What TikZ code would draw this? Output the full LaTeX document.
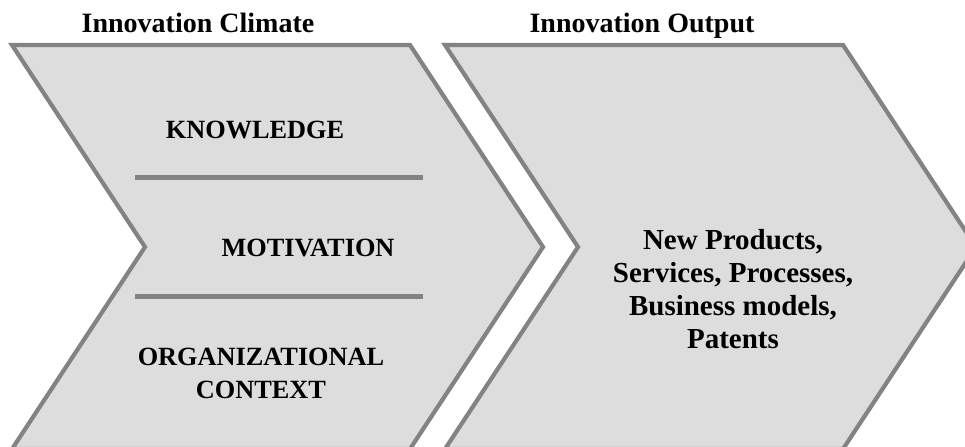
\documentclass[tikz,border=0pt]{standalone}
\usepackage{fontspec}
\setmainfont{Liberation Serif}
\definecolor{panelfill}{HTML}{DDDDDD}
\definecolor{paneledge}{HTML}{838383}
\begin{document}
\begin{tikzpicture}[x=1bp,y=-1bp,
  panel/.style={fill=panelfill,draw=paneledge,line width=4.2bp,line join=miter},
  divider/.style={draw=paneledge,line width=4.6bp},
  heading/.style={font=\bfseries\fontsize{28bp}{32bp}\selectfont,inner sep=0pt,anchor=base},
  factor/.style={font=\bfseries\fontsize{26.3bp}{33bp}\selectfont,inner sep=0pt,align=center},
  result/.style={font=\bfseries\fontsize{29bp}{33bp}\selectfont,inner sep=0pt,align=center}]
\useasboundingbox (0,0) rectangle (965,447);
\begin{scope}
  \clip (0,0) rectangle (965,447);
  % left chevron: innovation climate
  \draw[panel] (12,45) -- (410,45) -- (543,247) -- (410,449) -- (12,449) -- (145,247) -- cycle;
  % right chevron: innovation output
  \draw[panel] (445,45) -- (843,45) -- (976,247) -- (843,449) -- (445,449) -- (578,247) -- cycle;
\end{scope}
% dividers between the three climate factors
\coordinate (d1a) at (135,177.5);
\coordinate (d1b) at (423,177.5);
\coordinate (d2a) at (135,296.5);
\coordinate (d2b) at (423,296.5);
\draw[divider] (d1a) -- (d1b);
\draw[divider] (d2a) -- (d2b);
% headings
\node[heading] (hclimate) at (198,33) {Innovation Climate};
\node[heading] (houtput) at (642,33) {Innovation Output};
% climate factors
\node[factor] (know) at (255,130) {KNOWLEDGE};
\node[factor] (motiv) at (308,248) {MOTIVATION};
\node[factor] (orgctx) at (261,373) {ORGANIZATIONAL\\CONTEXT};
% output
\node[result] (out) at (733,289) {New Products,\\Services, Processes,\\Business models,\\Patents};
\end{tikzpicture}
\end{document}
